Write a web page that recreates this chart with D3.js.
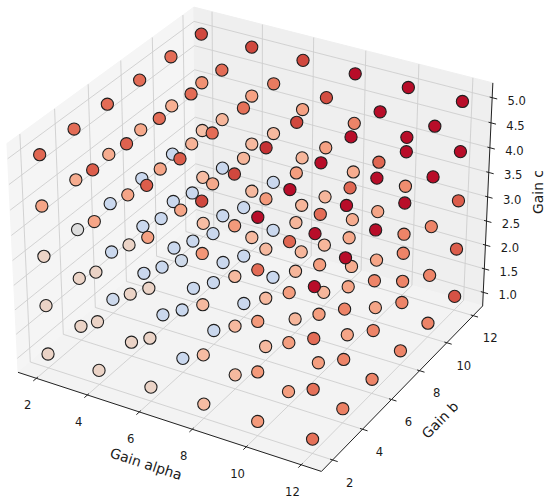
<!DOCTYPE html>
<html>
<head>
<meta charset="utf-8">
<script src="https://cdn.jsdelivr.net/npm/d3@7/dist/d3.min.js"></script>
<style>
  body { margin: 0; background: #fff; }
  svg { display: block; font-family: 'DejaVu Sans', sans-serif; }
</style>
</head>
<body>
<svg id="chart" width="550" height="501"></svg>
<script>
// grid of gains
var alphaVals = [2, 4, 6, 8, 10, 12];
var bVals = [2, 4, 6, 8, 10, 12];
var cVals = [1, 2, 3, 4, 5];

// tick labels
var xTicks = [2, 4, 6, 8, 10, 12];
var yTicks = [2, 4, 6, 8, 10, 12];
var zTicks = [1.0, 1.5, 2.0, 2.5, 3.0, 3.5, 4.0, 4.5, 5.0];

// colour value (0..1 on coolwarm) per point, one table per Gain c level
// rows: Gain alpha 2..12, columns: Gain b 2..12
var scoreC1 = [
    [0.56, 0.56, 0.44, 0.43, 0.43, 0.65],
    [0.56, 0.56, 0.43, 0.43, 0.43, 0.66],
    [0.56, 0.43, 0.43, 0.43, 0.43, 0.67],
    [0.65, 0.66, 0.66, 0.67, 0.67, 0.70],
    [0.75, 0.74, 0.74, 0.72, 0.72, 0.80],
    [0.84, 0.81, 0.80, 0.80, 0.80, 0.90]
];
var scoreC2 = [
    [0.56, 0.56, 0.43, 0.43, 0.43, 0.65],
    [0.56, 0.56, 0.43, 0.43, 0.43, 0.66],
    [0.56, 0.43, 0.43, 0.43, 0.43, 0.67],
    [0.65, 0.66, 0.66, 0.67, 0.67, 0.70],
    [0.75, 0.74, 0.74, 0.72, 0.72, 0.80],
    [0.84, 0.80, 0.80, 0.80, 0.80, 0.88]
];
var scoreC3 = [
    [0.56, 0.50, 0.43, 0.43, 0.43, 0.64],
    [0.56, 0.56, 0.43, 0.43, 0.43, 0.66],
    [0.56, 0.45, 0.43, 0.43, 0.43, 0.67],
    [0.66, 0.66, 0.66, 0.67, 0.67, 0.70],
    [0.75, 0.74, 0.74, 0.71, 0.72, 0.78],
    [0.85, 0.80, 0.80, 0.80, 0.80, 0.88]
];
var scoreC4 = [
    [0.72, 0.70, 0.70, 0.71, 0.69, 0.77],
    [0.72, 0.72, 0.72, 0.68, 0.67, 0.73],
    [0.73, 0.72, 0.71, 0.67, 0.66, 0.73],
    [0.76, 0.75, 0.75, 0.74, 0.73, 0.80],
    [0.85, 0.86, 0.85, 0.86, 0.86, 0.99],
    [0.99, 0.99, 0.99, 0.99, 0.99, 0.99]
];
var scoreC5 = [
    [0.86, 0.85, 0.85, 0.85, 0.85, 0.92],
    [0.88, 0.87, 0.85, 0.85, 0.85, 0.92],
    [0.88, 0.88, 0.85, 0.84, 0.82, 0.92],
    [0.92, 0.92, 0.95, 0.92, 0.91, 0.99],
    [0.99, 0.99, 0.99, 0.99, 0.99, 0.99],
    [0.99, 0.99, 0.99, 0.99, 0.99, 0.99]
];
var scores = [scoreC1, scoreC2, scoreC3, scoreC4, scoreC5];

// coolwarm colormap stops
var coolwarm = ['#3b4cc0', '#4d68d7', '#6282ea', '#779af7', '#8db0fe', '#a3c2ff',
    '#b8d0f9', '#ccd9ed', '#dddddd', '#ecd3c5', '#f5c4ad', '#f7b194',
    '#f49a7b', '#eb7f63', '#dd604d', '#cb3e38', '#b40426'];
var color = d3.scaleLinear()
    .domain(d3.range(coolwarm.length).map(function(i) { return i / (coolwarm.length - 1); }))
    .range(coolwarm)
    .interpolate(d3.interpolateRgb);

// axis limits (5% margin like matplotlib)
var xDom = [1.5, 12.5], yDom = [1.5, 12.5], zDom = [0.8, 5.2];

// view: elev 30, azim -60, box aspect 4:4:3
var elev = 30 * Math.PI / 180, azim = -60 * Math.PI / 180, dist = 10;
var boxLen = Math.sqrt(4 * 4 + 4 * 4 + 3 * 3);
var aspect = [4, 4, 3].map(function(d) { return d * 1.8294640721620434 / boxLen; });

var sx = d3.scaleLinear().domain(xDom).range([-aspect[0] / 2, aspect[0] / 2]);
var sy = d3.scaleLinear().domain(yDom).range([-aspect[1] / 2, aspect[1] / 2]);
var sz = d3.scaleLinear().domain(zDom).range([-aspect[2] / 2, aspect[2] / 2]);

function dot(a, b) { return a[0] * b[0] + a[1] * b[1] + a[2] * b[2]; }
function cross(a, b) {
    return [a[1] * b[2] - a[2] * b[1], a[2] * b[0] - a[0] * b[2], a[0] * b[1] - a[1] * b[0]];
}
function unit(a) { var n = Math.sqrt(dot(a, a)); return a.map(function(d) { return d / n; }); }

var w = [Math.cos(elev) * Math.cos(azim), Math.cos(elev) * Math.sin(azim), Math.sin(elev)];
var u = unit(cross([0, 0, 1], w));
var v = cross(w, u);

// screen mapping of the projected plane
var cx = 254.6, cy = 228.1, zoom = 2920;
var px = d3.scaleLinear().domain([-1, 1]).range([cx - zoom, cx + zoom]);
var py = d3.scaleLinear().domain([-1, 1]).range([cy + zoom, cy - zoom]);

function project(x, y, z) {
    var P = [sx(x), sy(y), sz(z)];
    var zv = dot(w, P) - dist;
    return [px(dot(u, P) / -zv), py(dot(v, P) / -zv), zv];
}

function padded(d) { var p = (d[1] - d[0]) / 48; return [d[0] - p, d[1] + p]; }
var xb = padded(xDom), yb = padded(yDom), zb = padded(zDom);

var svg = d3.select('#chart');
var line = d3.line();
function path3(pts) {
    return line(pts.map(function(p) { return project(p[0], p[1], p[2]).slice(0, 2); }));
}

// panes
var panes = [
    {fill: '#f5f5f5', pts: [[xb[0], yb[0], zb[0]], [xb[0], yb[1], zb[0]], [xb[0], yb[1], zb[1]], [xb[0], yb[0], zb[1]]]},
    {fill: '#efefef', pts: [[xb[0], yb[1], zb[0]], [xb[1], yb[1], zb[0]], [xb[1], yb[1], zb[1]], [xb[0], yb[1], zb[1]]]},
    {fill: '#f3f3f3', pts: [[xb[0], yb[0], zb[0]], [xb[1], yb[0], zb[0]], [xb[1], yb[1], zb[0]], [xb[0], yb[1], zb[0]]]}
];
svg.append('g').selectAll('path').data(panes).enter().append('path')
    .attr('d', function(d) { return path3(d.pts) + 'Z'; })
    .attr('fill', function(d) { return d.fill; })
    .attr('stroke', function(d) { return d.fill; });

// grid lines
var grid = [];
xTicks.forEach(function(t) { grid.push([[t, yb[0], zb[0]], [t, yb[1], zb[0]], [t, yb[1], zb[1]]]); });
yTicks.forEach(function(t) { grid.push([[xb[1], t, zb[0]], [xb[0], t, zb[0]], [xb[0], t, zb[1]]]); });
zTicks.forEach(function(t) { grid.push([[xb[0], yb[0], t], [xb[0], yb[1], t], [xb[1], yb[1], t]]); });
svg.append('g').selectAll('path').data(grid).enter().append('path')
    .attr('d', path3)
    .attr('fill', 'none')
    .attr('stroke', '#cecece')
    .attr('stroke-width', 0.9);

// axis lines
var axisLines = [
    [[xb[0], yb[0], zb[0]], [xb[1], yb[0], zb[0]]],
    [[xb[1], yb[0], zb[0]], [xb[1], yb[1], zb[0]]],
    [[xb[1], yb[1], zb[0]], [xb[1], yb[1], zb[1]]]
];
svg.append('g').selectAll('path').data(axisLines).enter().append('path')
    .attr('d', path3)
    .attr('stroke', '#222')
    .attr('stroke-width', 1);

// ticks and tick labels
var dx = (xDom[1] - xDom[0]) / 12, dy = (yDom[1] - yDom[0]) / 12;
var tickSets = [
    {ticks: xTicks, fmt: d3.format('d'), shift: [-8.7, 26.8],
     a: function(t) { return [t, yb[0] - 0.2 * dy, zb[0]]; },
     b: function(t) { return [t, yb[0] + 0.1 * dy, zb[0]]; },
     at: function(t) { return [t, yb[0], zb[0]]; }},
    {ticks: yTicks, fmt: d3.format('d'), shift: [17, 22.7],
     a: function(t) { return [xb[1] + 0.2 * dx, t, zb[0]]; },
     b: function(t) { return [xb[1] - 0.1 * dx, t, zb[0]]; },
     at: function(t) { return [xb[1], t, zb[0]]; }},
    {ticks: zTicks, fmt: d3.format('.1f'), shift: [24.5, 2.8],
     a: function(t) { return [xb[1] + 0.2 * dx, yb[1], t]; },
     b: function(t) { return [xb[1] - 0.1 * dx, yb[1], t]; },
     at: function(t) { return [xb[1], yb[1], t]; }}
];
tickSets.forEach(function(s) {
    var g = svg.append('g');
    g.selectAll('path').data(s.ticks).enter().append('path')
        .attr('d', function(t) { return path3([s.a(t), s.b(t)]); })
        .attr('stroke', '#222')
        .attr('stroke-width', 1);
    g.selectAll('text').data(s.ticks).enter().append('text')
        .attr('x', function(t) { return project.apply(null, s.at(t))[0] + s.shift[0]; })
        .attr('y', function(t) { return project.apply(null, s.at(t))[1] + s.shift[1]; })
        .attr('dy', '0.35em')
        .attr('text-anchor', 'middle')
        .attr('font-size', '11.6px')
        .attr('fill', '#1a1a1a')
        .text(s.fmt);
});

// axis titles
function angleOf(p, q) {
    var a = project.apply(null, p), b = project.apply(null, q);
    return Math.atan2(b[1] - a[1], b[0] - a[0]) * 180 / Math.PI;
}
var titles = [
    {text: 'Gain alpha', mid: [(xDom[0] + xDom[1]) / 2, yb[0], zb[0]], shift: [-19.7, 43.4],
     rot: angleOf([xb[0], yb[0], zb[0]], [xb[1], yb[0], zb[0]])},
    {text: 'Gain b', mid: [xb[1], (yDom[0] + yDom[1]) / 2, zb[0]], shift: [34.4, 35],
     rot: angleOf([xb[1], yb[0], zb[0]], [xb[1], yb[1], zb[0]])},
    {text: 'Gain c', mid: [xb[1], yb[1], (zDom[0] + zDom[1]) / 2], shift: [50.3, -4.9], rot: -90}
];
svg.append('g').selectAll('text').data(titles).enter().append('text')
    .attr('transform', function(d) {
        var p = project.apply(null, d.mid);
        return 'translate(' + (p[0] + d.shift[0]) + ',' + (p[1] + d.shift[1]) + ') rotate(' + d.rot + ')';
    })
    .attr('dy', '0.35em')
    .attr('text-anchor', 'middle')
    .attr('font-size', '13.9px')
    .attr('fill', '#1a1a1a')
    .text(function(d) { return d.text; });

// scatter points, far ones first
var points = [];
cVals.forEach(function(c, k) {
    alphaVals.forEach(function(a, i) {
        bVals.forEach(function(b, j) {
            var p = project(a, b, c);
            points.push({x: p[0], y: p[1], depth: p[2], value: scores[k][i][j]});
        });
    });
});
points.sort(function(p, q) { return p.depth - q.depth; });

svg.append('g').selectAll('circle').data(points).enter().append('circle')
    .attr('cx', function(d) { return d.x; })
    .attr('cy', function(d) { return d.y; })
    .attr('r', 6.1)
    .attr('fill', function(d) { return color(d.value); })
    .attr('stroke', '#1e1e1e')
    .attr('stroke-width', 1.1);
</script>
</body>
</html>
